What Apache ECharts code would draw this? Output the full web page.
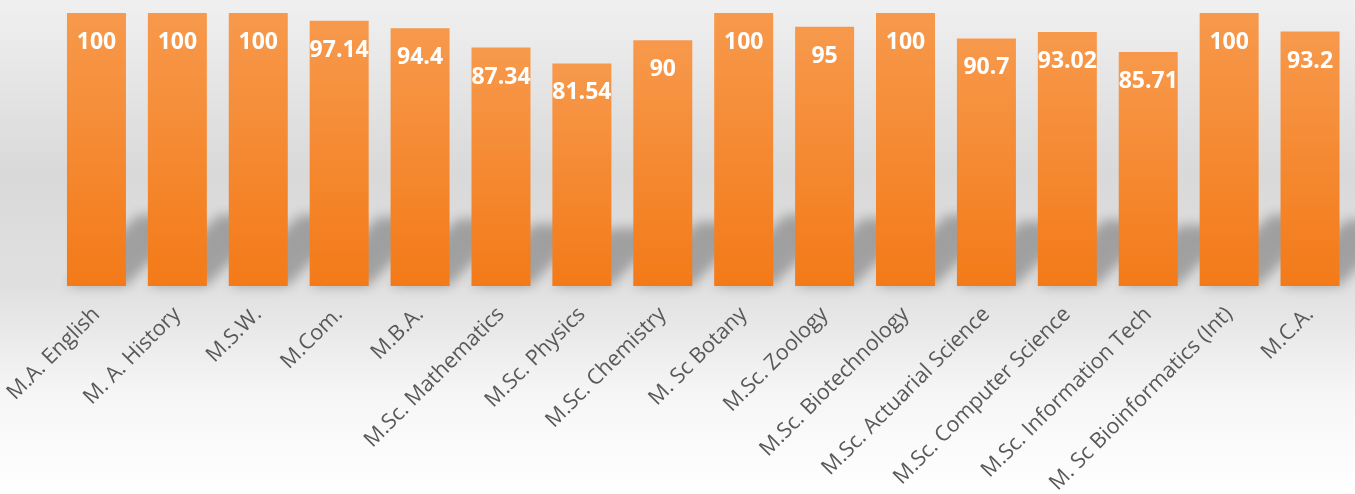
<html>
<head>
<meta charset="utf-8">
<script src="https://cdn.jsdelivr.net/npm/echarts@6/dist/echarts.min.js"></script>
<style>
html, body { margin: 0; padding: 0; }
#main { width: 1355px; height: 494px; }
</style>
</head>
<body>
<div id="main"></div>
<script>
var courses = ['M.A. English', 'M. A. History', 'M.S.W.', 'M.Com.', 'M.B.A.', 'M.Sc. Mathematics',
    'M.Sc. Physics', 'M.Sc. Chemistry', 'M. Sc Botany', 'M.Sc. Zoology', 'M.Sc. Biotechnology',
    'M.Sc. Actuarial Science', 'M.Sc. Computer Science', 'M.Sc. Information Tech',
    'M. Sc Bioinformatics (Int)', 'M.C.A.'];
var passPercent = [100, 100, 100, 97.14, 94.4, 87.34, 81.54, 90, 100, 95, 100, 90.7, 93.02, 85.71, 100, 93.2];

var chart = echarts.init(document.getElementById('main'));

// soft perspective shadow behind every bar: the shape itself is drawn far off to the left,
// only its blurred canvas shadow is offset back into place
var OFF = 3000;
function renderShadow(params, api) {
    var base = api.coord([api.value(0), 0]);
    var top = api.coord([api.value(0), api.value(1)]);
    var w = api.size([1, 0])[0] * 0.73;
    var x0 = base[0] - w / 2 - OFF, x1 = base[0] + w / 2 - OFF;
    var d = (base[1] - top[1]) * 0.26;
    return {
        type: 'polygon',
        shape: { points: [[x0, base[1]], [x1, base[1]], [x1 + d, base[1] - d], [x0 + d, base[1] - d]] },
        style: {
            fill: '#000',
            shadowBlur: 12,
            shadowOffsetX: OFF,
            shadowColor: 'rgba(0,0,0,0.28)'
        }
    };
}

chart.setOption({
    backgroundColor: new echarts.graphic.LinearGradient(0, 0, 0, 1, [
        { offset: 0, color: '#f0f0f0' },
        { offset: 0.35, color: '#d9d9d9' },
        { offset: 0.58, color: '#e0e0e0' },
        { offset: 0.8, color: '#f6f6f6' },
        { offset: 1, color: '#ffffff' }
    ]),
    grid: { left: 56, right: 4.5, top: 13, bottom: 208, outerBoundsMode: 'none' },
    xAxis: {
        type: 'category',
        data: courses,
        axisLine: { show: false },
        axisTick: { show: false },
        axisLabel: {
            interval: 0,
            rotate: 45,
            margin: 25,
            color: '#595959',
            fontSize: 21.5,
            fontFamily: 'Open Sans'
        }
    },
    yAxis: {
        type: 'value',
        min: 0,
        max: 100,
        show: false,
        splitLine: { show: false }
    },
    series: [{
        type: 'custom',
        renderItem: renderShadow,
        data: passPercent.map(function (v, i) { return [i, v]; }),
        encode: { x: 0, y: 1 },
        silent: true,
        clip: false,
        z: 1
    }, {
        type: 'bar',
        data: passPercent,
        barWidth: 59,
        z: 2,
        itemStyle: {
            color: new echarts.graphic.LinearGradient(0, 0, 0, 1, [
                { offset: 0, color: '#f7994c' },
                { offset: 1, color: '#f37a18' }
            ])
        },
        label: {
            show: true,
            position: 'insideTop',
            distance: 18,
            color: '#ffffff',
            fontSize: 23,
            fontWeight: 'bold',
            fontFamily: 'Open Sans'
        }
    }]
});

window.onresize = chart.resize;
</script>
</body>
</html>
